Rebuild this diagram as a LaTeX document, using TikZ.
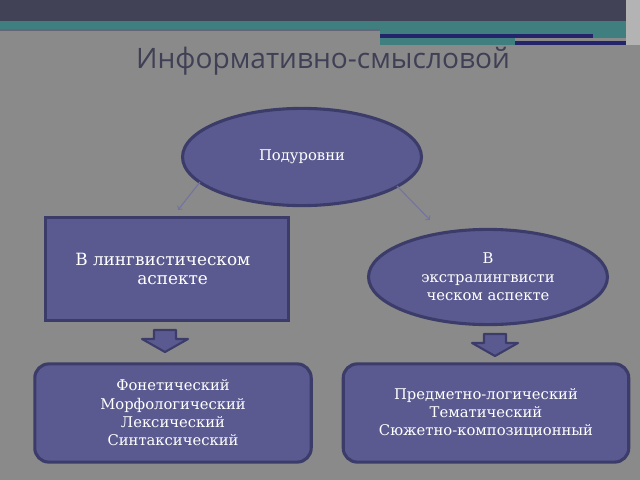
\documentclass[tikz,border=0pt]{standalone}
\usepackage{fontspec}
\setmainfont{DejaVu Serif}
\newfontfamily\titlefont{Open Sans}
\usetikzlibrary{shapes.geometric}
\definecolor{bggray}{HTML}{8A8A8A}
\definecolor{topbar}{HTML}{424256}
\definecolor{teal}{HTML}{3F7F80}
\definecolor{lineblue}{HTML}{24246A}
\definecolor{boxfill}{HTML}{5A5A90}
\definecolor{boxline}{HTML}{3C3C6A}
\definecolor{titlecol}{HTML}{3F3F55}
\tikzset{
  levelbox/.style={fill=boxfill, draw=boxline, line width=2.2pt, text=white, align=center},
  blockarrow/.style={fill=boxfill, draw=boxline, line width=1.5pt, line join=round},
  thinarrow/.style={->, draw=boxfill!85!white, line width=0.8pt}
}
\newcommand\blockdown[1]{% block arrow pointing down at #1
  \draw[blockarrow, shift={(#1)}] (-11,-11) -- (11,-11) -- (11,-2) -- (23,-2) -- (0,11)
    -- (-23,-2) -- (-11,-2) -- cycle;}
\begin{document}
\begin{tikzpicture}[x=0.025cm, y=-0.025cm]
  \useasboundingbox (0,0) rectangle (640,480);
  \fill[bggray] (0,0) rectangle (640,480);
  % header bars
  \fill[topbar] (0,0) rectangle (640,22);
  \fill[teal] (0,21) rectangle (380,30);
  \fill[teal] (380,21) rectangle (628,38);
  \fill[titlecol!80] (0,29) rectangle (380,31);
  \fill[lineblue] (380,34) rectangle (593,38);
  \fill[teal] (380,38) rectangle (515,45);
  \fill[lineblue] (515,41) rectangle (627,45);
  \fill[white!35!bggray] (626,0) rectangle (640,45);
  \node (title) [text=titlecol, font=\titlefont\fontsize{20}{24}\selectfont] at (323,61) {Информативно-смысловой};

  \node (sub) [levelbox, ellipse, minimum width=236*0.72pt, minimum height=96*0.72pt,
    font=\fontsize{10.5}{12}\selectfont] at (302,157) {Подуровни};
  \node (ling) [levelbox, rectangle, minimum width=240*0.72pt, minimum height=101*0.72pt,
    font=\fontsize{12}{14}\selectfont] at (167,269) {\hspace*{-6pt}В лингвистическом\\ \hspace*{8pt}аспекте};
  \node (extra) [levelbox, ellipse, minimum width=236*0.72pt, minimum height=94*0.72pt,
    font=\fontsize{10.5}{13}\selectfont] at (488,277) {В\\ экстралингвисти\\ческом аспекте};
  \coordinate (subL) at (200,182);
  \coordinate (subR) at (397,186);
  \coordinate (lingT) at (178,210);
  \coordinate (extraT) at (430,220);
  \draw[thinarrow] (subL) -- (lingT);
  \draw[thinarrow] (subR) -- (extraT);

  \blockdown{165,341}
  \blockdown{495,345}

  \node (phon) [levelbox, rounded corners=10pt, minimum width=273*0.72pt, minimum height=97*0.72pt,
    font=\fontsize{10.5}{13}\selectfont] at (173,413)
    {Фонетический\\ Морфологический\\ Лексический\\ Синтаксический};
  \node (subj) [levelbox, rounded corners=10pt, minimum width=282*0.72pt, minimum height=97*0.72pt,
    font=\fontsize{10.5}{13}\selectfont] at (486,413)
    {Предметно-логический\\ Тематический\\ Сюжетно-композиционный};
\end{tikzpicture}
\end{document}
